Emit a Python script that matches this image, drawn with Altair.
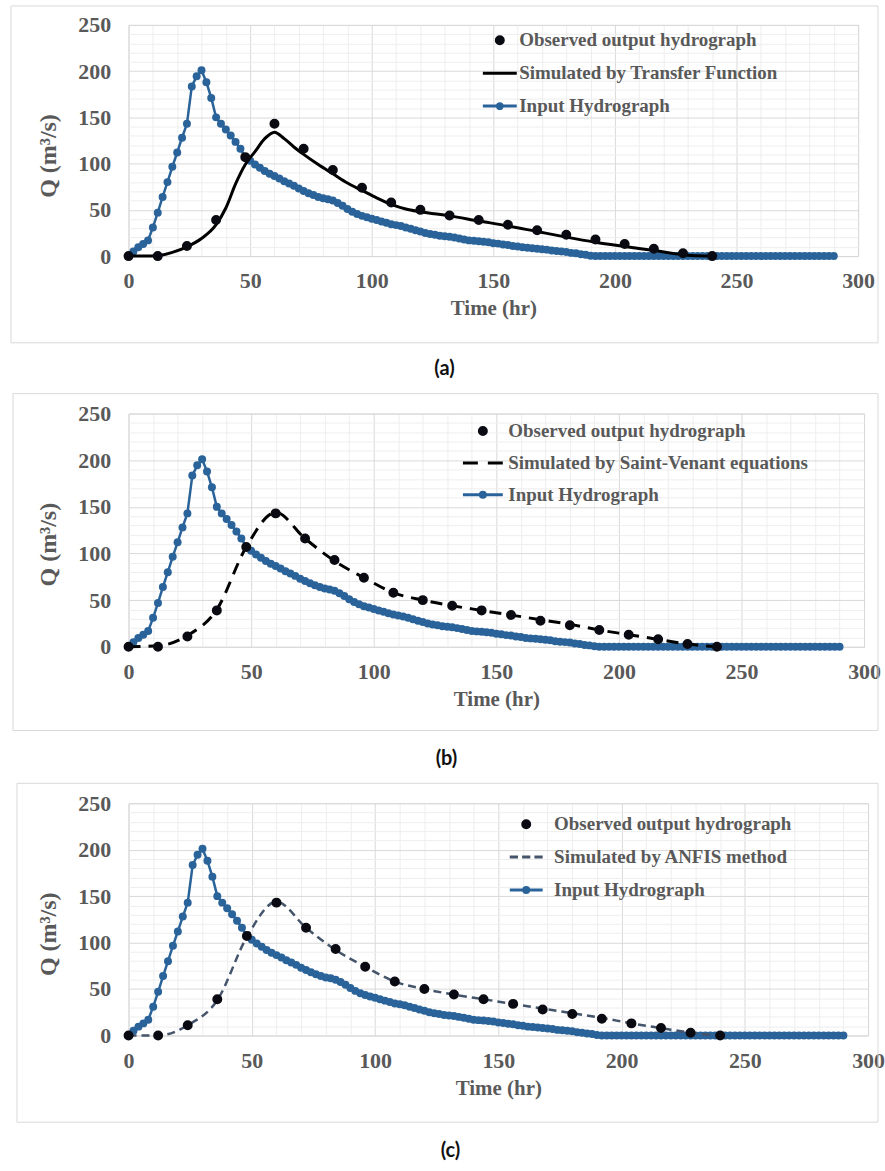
import altair as alt
import pandas as pd

# ---------------- data ----------------
obs_t = [0, 12, 24, 36, 48, 60, 72, 84, 96, 108, 120, 132, 144, 156, 168, 180, 192, 204, 216, 228, 240]
obs_q = [0, 0, 11, 39, 107, 143, 116, 93, 74, 58, 50, 44, 39, 34, 28, 23, 18, 13, 8, 3, 0]

input_t = list(range(0, 291, 2))
input_q = [
    0, 5, 9.5, 13, 17, 31, 47, 64, 80, 96.5, 112, 128, 143, 183.5, 194.5, 201, 188, 171, 150, 143,
    137, 130.5, 123.5, 116, 107,
    103, 99, 95.5, 92, 89, 86.5, 84, 81, 78.5, 76, 73, 70.5, 68, 66, 64, 62.5, 61.5, 60, 57.5, 54.5,
    51, 48, 45.5, 43.5, 42, 40.5,
    39, 37.5, 36, 34.5, 33.5, 32.5, 31, 29.5, 28, 26.5, 25, 24, 23, 22, 21.5, 21, 20, 19, 18, 17,
    16.5, 16, 15.5, 15, 14, 13.5, 12.5, 12, 11, 10.5, 9.5, 9, 8.5, 8, 7.5, 7, 6, 5.5, 5, 4.5,
    3.5, 3, 2, 1.5, 0.5,
    0, 0, 0, 0, 0, 0, 0, 0, 0, 0, 0, 0, 0, 0, 0, 0, 0, 0, 0, 0, 0, 0, 0, 0, 0,
    0, 0, 0, 0, 0, 0, 0, 0, 0, 0, 0, 0, 0, 0, 0, 0, 0, 0, 0, 0, 0, 0, 0, 0, 0,
]

tf_t = [0, 6, 12, 18, 24, 30, 36, 40, 44, 48, 52, 56, 60, 64, 68, 72, 78, 84, 90, 96, 102, 108,
        114, 120, 132, 144, 156, 168, 180, 192, 204, 216, 228, 234, 240]
tf_q = [0, 0, 0.5, 4, 10, 19, 34, 52, 78, 99, 113, 127, 134, 127, 118, 110, 99, 89, 79, 71, 63, 56,
        51, 48, 43.5, 38, 32.7, 26.6, 20.5, 15, 10.4, 6, 1.5, 0.3, 0]

sv_t = [0, 12, 24, 36, 48, 60, 72, 84, 96, 108, 120, 132, 144, 156, 168, 180, 192, 204, 216, 228, 240]
sv_q = [0, 1, 12, 40, 107, 144, 116, 92, 74, 58, 50, 44, 39, 34, 29, 24, 18, 13, 8, 3, 0]

anfis_t = [0, 12, 24, 36, 48, 60, 72, 84, 96, 108, 120, 132, 144, 156, 168, 180, 192, 204, 216, 228, 240]
anfis_q = [0, 0, 11, 38, 106, 144, 116, 92, 74, 58, 50, 44, 39, 34, 29, 24, 19, 13, 8, 3, 0]

OBS_NAME = "Observed output hydrograph"
IN_NAME = "Input Hydrograph"
TF_NAME = "Simulated by Transfer Function"
SV_NAME = "Simulated by Saint-Venant equations"
AN_NAME = "Simulated by ANFIS method"

# ---------------- styles ----------------
SERIF = "Liberation Serif"
GRAY = "#595959"
OBS_COLOR = "#0a0a12"
IN_COLOR = "#2a6399"
GRID_MAJOR = "#d9d9d9"
GRID_MINOR = "#eeeeee"
ORIGIN = 128  # common page x of the plot areas


def circ(r):
    return f"M{r},0A{r},{r},0,1,1,{-r},0A{r},{r},0,1,1,{r},0Z"


def panel(sim_name, sim_t, sim_q, sim_color, sim_dash, sim_width, sim_path,
          sym_w, lx, ly, lab_off, row_pad, caption, cap_off, geo):
    pw, ph, box_left, box_t, box_right, box_b = geo
    box_l = box_left - ORIGIN
    box_r = box_right - ORIGIN
    unit = sym_w / 2.0
    dom = [OBS_NAME, sim_name, IN_NAME]
    colors = [OBS_COLOR, sim_color, IN_COLOR]
    shapes = [circ(round(3.5 / unit, 3)), sim_path, "M-1,0L1,0" + circ(round(2.5 / unit, 3))]

    legend = alt.Legend(
        title=None, orient="none", legendX=lx - ORIGIN, legendY=ly, padding=0,
        labelFont=SERIF, labelFontSize=19, labelFontWeight="bold", labelColor=GRAY,
        labelOffset=lab_off, labelLimit=600, rowPadding=row_pad,
        symbolSize=sym_w * sym_w, symbolStrokeWidth=3,
    )

    xaxis = alt.Axis(
        values=list(range(0, 301, 10)),
        labelExpr="datum.value % 50 === 0 ? datum.label : ''",
        labelOverlap=False, labelFlush=False,
        gridColor={"condition": {"test": "datum.value % 50 === 0", "value": GRID_MAJOR}, "value": GRID_MINOR},
        ticks=False, domain=False,
        labelFont=SERIF, labelFontSize=22, labelFontWeight="bold", labelColor=GRAY, labelPadding=15,
        title="Time (hr)", titleFont=SERIF, titleFontSize=21, titleFontWeight="bold", titleColor=GRAY,
        titlePadding=6,
    )
    yaxis = alt.Axis(
        values=list(range(0, 251, 10)),
        labelExpr="datum.value % 50 === 0 ? datum.label : ''",
        labelOverlap=False, labelFlush=False,
        gridColor={"condition": {"test": "datum.value % 50 === 0", "value": GRID_MAJOR}, "value": GRID_MINOR},
        ticks=False, domain=False,
        labelFont=SERIF, labelFontSize=22, labelFontWeight="bold", labelColor=GRAY, labelPadding=18,
        title="Q (m³/s)", titleFont=SERIF, titleFontSize=24, titleFontWeight="bold", titleColor=GRAY,
        titleAngle=270, titleBaseline="middle", titleX=-80, titleY=131,
    )
    xs = alt.Scale(domain=[0, 300], nice=False, zero=False)
    ys = alt.Scale(domain=[0, 250], nice=False, zero=False)

    def X():
        return alt.X("t:Q", scale=xs, axis=xaxis)

    def Y():
        return alt.Y("q:Q", scale=ys, axis=yaxis)

    box = alt.Chart(pd.DataFrame({"b": [0]})).mark_rect(
        fill="transparent", stroke=GRID_MAJOR, strokeWidth=1
    ).encode(x=alt.value(box_l), x2=alt.value(box_r), y=alt.value(box_t), y2=alt.value(box_b))

    in_df = pd.DataFrame({"t": input_t, "q": input_q})
    in_line = alt.Chart(in_df).mark_line(color=IN_COLOR, strokeWidth=2.5).encode(x=X(), y=Y())
    in_pts = alt.Chart(in_df).mark_point(filled=True, size=64, color=IN_COLOR, opacity=1).encode(x=X(), y=Y())

    sim_df = pd.DataFrame({"t": sim_t, "q": sim_q})
    line_kw = dict(color=sim_color, strokeWidth=sim_width, interpolate="monotone")
    if sim_dash:
        line_kw["strokeDash"] = sim_dash
    sim_line = alt.Chart(sim_df).mark_line(**line_kw).encode(x=X(), y=Y())

    obs_df = pd.DataFrame({"t": obs_t, "q": obs_q, "series": [OBS_NAME] * len(obs_t)})
    obs_pts = alt.Chart(obs_df).mark_point(
        filled=True, size=sym_w * sym_w, strokeWidth=3, opacity=1
    ).encode(
        x=X(), y=Y(),
        fill=alt.Fill("series:N", scale=alt.Scale(domain=dom, range=colors), legend=legend),
        stroke=alt.Stroke("series:N", scale=alt.Scale(domain=dom, range=colors), legend=legend),
        shape=alt.Shape("series:N", scale=alt.Scale(domain=dom, range=shapes), legend=legend),
    )

    return alt.layer(box, in_line, in_pts, sim_line, obs_pts).properties(
        width=pw, height=ph,
        title=alt.TitleParams(
            text=caption, orient="bottom", anchor="middle", frame="bounds",
            font="Lato", fontSize=20, fontWeight="bold", color="#111111", offset=cap_off,
        ),
    )


# geo: plot width, plot height, box left (page x), box top (rel), box right (page x), box bottom (rel)
pa = panel(TF_NAME, tf_t, tf_q, "#000000", None, 3, "M-1,0L1,0",
           34, 482, -3, 1, 4, "(a)", 16, (732, 232, 10, -19, 880, 319))
pb = panel(SV_NAME, sv_t, sv_q, "#000000", [12, 8], 3, "M-1,0L-0.25,0M0.25,0L1,0",
           40, 462, -4, 4, -12, "(b)", 18, (738, 234, 12, -20, 880, 318))
pc = panel(AN_NAME, anfis_t, anfis_q, "#44546a", [8, 5], 2.5, "M-1,0L-0.5,0M-0.25,0L0.25,0M0.5,0L1,0",
           33, 509, 3, 10, 5, "(c)", 18, (742, 233, 16, -20, 880, 320))

chart = alt.vconcat(pa, pb, pc, spacing=13).resolve_scale(
    fill="independent", stroke="independent", shape="independent"
).resolve_legend(
    fill="independent", stroke="independent", shape="independent"
).properties(
    padding={"left": 10, "top": 3, "right": 0, "bottom": 0},
    background="white",
).configure_view(stroke=GRID_MAJOR, strokeWidth=1)

chart.save("out.html", embed_options={"renderer": "svg", "actions": False})
